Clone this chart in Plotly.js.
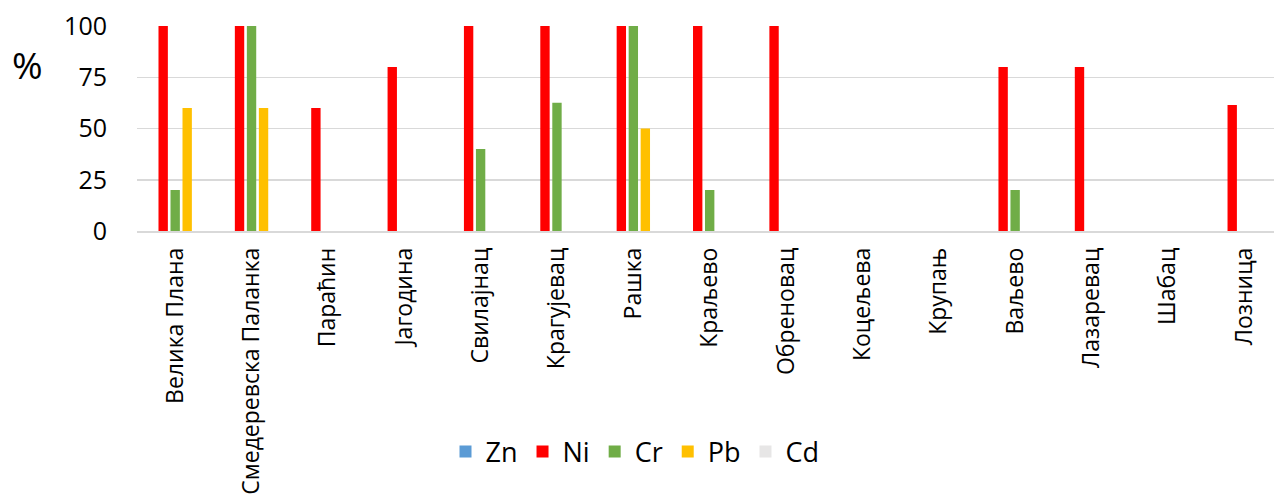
<!DOCTYPE html>
<html>
<head>
<meta charset="utf-8">
<script src="https://cdn.plot.ly/plotly-3.0.1.min.js"></script>
<style>html,body{margin:0;padding:0;background:#fff;}#chart{width:1274px;height:498px;}</style>
</head>
<body>
<div id="chart"></div>
<script>
const categories = ['Велика Плана','Смедеревска Паланка','Параћин','Јагодина','Свилајнац','Крагујевац','Рашка','Краљево','Обреновац','Коцељева','Крупањ','Ваљево','Лазаревац','Шабац','Лозница'];
const seriesNames = ['Zn','Ni','Cr','Pb','Cd'];
const zn = [0,0,0,0,0,0,0,0,0,0,0,0,0,0,0];
const ni = [100,100,60,80,100,100,100,100,100,0,0,80,80,0,61.5];
const cr = [20,100,0,0,40,62.5,100,20,0,0,0,20,0,0,0];
const pb = [60,60,0,0,0,0,50,0,0,0,0,0,0,0,0];
const cd = [0,0,0,0,0,0,0,0,0,0,0,0,0,0,0];
const yTicks = [0,25,50,75,100];
const colors = ['#5B9BD5','#FF0000','#70AD47','#FFC000','#E7E6E6'];

const FONT = 'Open Sans, Noto Sans, sans-serif';
const values = [zn, ni, cr, pb, cd];
const traces = values.map((v, i) => ({
  type: 'bar',
  name: seriesNames[i],
  x: categories,
  y: v,
  marker: {color: colors[i]},
  hoverinfo: 'x+y+name'
}));

const layout = {
  width: 1274, height: 498,
  margin: {l: 137, r: 0, t: 26, b: 267},
  paper_bgcolor: '#fff', plot_bgcolor: '#fff',
  barmode: 'group',
  bargap: 0.214,
  bargroupgap: 0.22,
  font: {family: FONT, color: '#000'},
  xaxis: {
    type: 'category',
    range: [-0.5, 14.39],
    tickangle: -90,
    tickfont: {size: 23, family: FONT, color: '#000'},
    ticks: 'outside', ticklen: 6, tickcolor: 'rgba(0,0,0,0)',
    showline: true, linecolor: '#D9D9D9', linewidth: 1.5,
    showgrid: false, zeroline: false, automargin: false
  },
  yaxis: {
    range: [0, 100],
    tickvals: yTicks,
    ticktext: yTicks.map(String),
    tickfont: {size: 25, family: FONT, color: '#000'},
    ticks: 'outside', ticklen: 24, tickcolor: 'rgba(0,0,0,0)',
    showgrid: true, gridcolor: '#D9D9D9', gridwidth: 1.5,
    zeroline: false, showline: false, automargin: false
  },
  showlegend: true,
  legend: {
    orientation: 'h', x: 0.438, xanchor: 'center', y: -1.078, yanchor: 'middle',
    font: {size: 27, family: FONT, color: '#000'},
    itemsizing: 'constant', traceorder: 'normal'
  },
  annotations: [{
    text: '%', xref: 'paper', yref: 'paper', x: -0.096, y: 0.81,
    xanchor: 'center', yanchor: 'middle', showarrow: false,
    font: {size: 37, family: FONT, color: '#000'}
  }]
};

Plotly.newPlot('chart', traces, layout, {displayModeBar: false, staticPlot: true});
</script>
</body>
</html>
